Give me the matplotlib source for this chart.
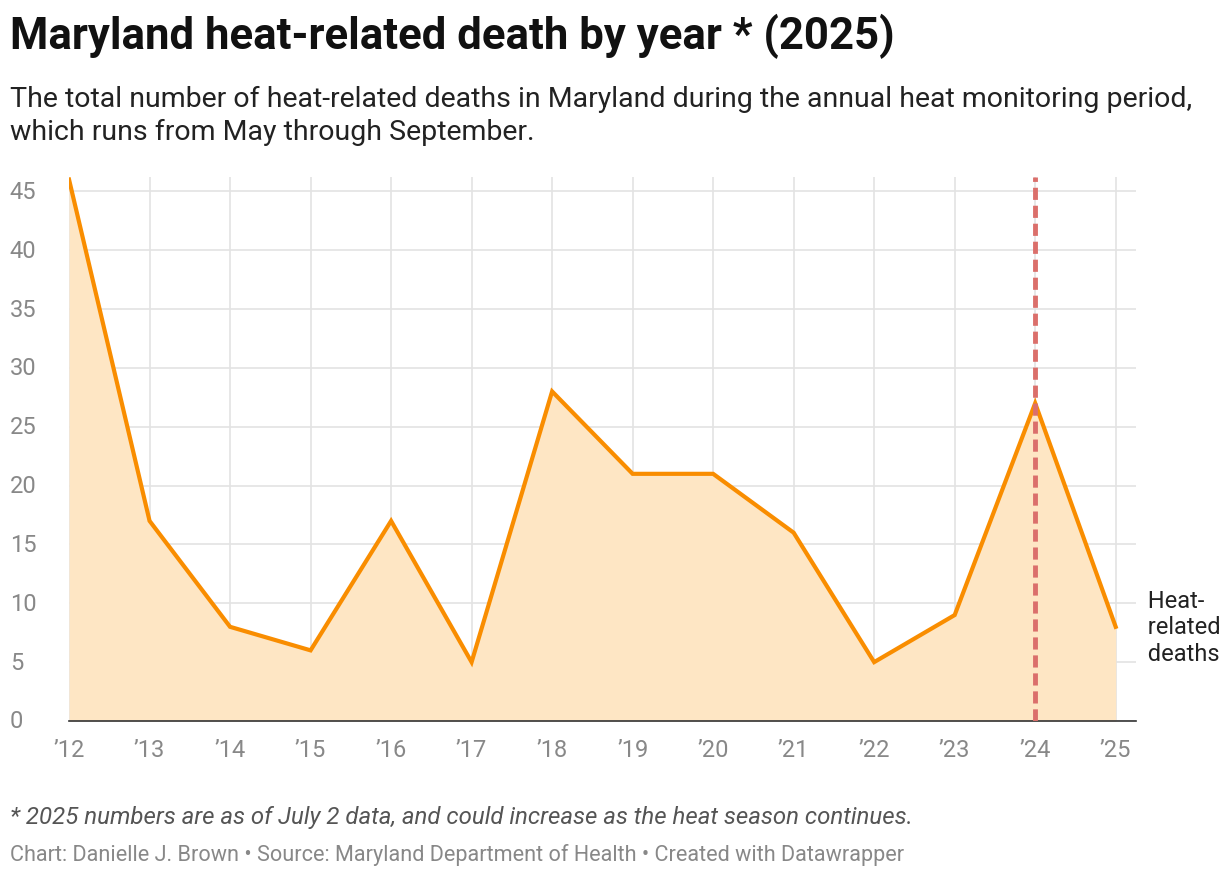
import matplotlib.pyplot as plt
from matplotlib.transforms import blended_transform_factory

plt.rcParams['font.family'] = ['Roboto', 'DejaVu Sans']

years = list(range(2012, 2026))
deaths = [46, 17, 8, 6, 17, 5, 28, 21, 21, 16, 5, 9, 27, 8]
year_labels = ["\u2019" + str(y)[2:] for y in years]
y_ticks = [0, 5, 10, 15, 20, 25, 30, 35, 40, 45]

fig = plt.figure(figsize=(12.2, 8.78), dpi=100)
ax = fig.add_axes([0.0566, 0.1777, 0.8744, 0.6193])

ax.fill_between(years, deaths, 0, color="#fee6c4", lw=0)
ax.plot(years, deaths, color="#f98d00", lw=3, solid_joinstyle="miter", zorder=4)
ax.axvline(2024, color="#db6f6b", lw=3.5, ls=(0, (2.5, 1.2)), zorder=5)

ax.set_xlim(2012, 2025.25)
ax.set_ylim(0, 46.2)
ax.set_yticks(y_ticks)
ax.set_yticklabels([])
ax.set_xticks(years)
ax.set_xticklabels(year_labels)
ax.grid(True, color="#e3e3e3", lw=1.2, zorder=0)
ax.set_axisbelow(True)
for s in ["top", "right", "left"]:
    ax.spines[s].set_visible(False)
ax.spines["bottom"].set_color("#333333")
ax.spines["bottom"].set_linewidth(1.2)
ax.tick_params(axis="both", length=0, labelsize=17, colors="#888888")
ax.tick_params(axis="x", pad=12)

# y tick labels, left-aligned at the figure edge
trans = blended_transform_factory(fig.transFigure, ax.transData)
for v in y_ticks:
    ax.text(0.008, v, str(v), transform=trans, fontsize=17, color="#888888",
            ha="left", va="center")

ax.text(2025.25, 8, "  Heat-\n  related\n  deaths", fontsize=17, color="#222222",
        va="center", ha="left", linespacing=1.2, transform=ax.transData)

fig.text(0.008, 0.958, "Maryland heat-related death by year * (2025)",
         fontsize=31.5, fontweight="bold", color="#111111", va="center")
fig.text(0.008, 0.868, "The total number of heat-related deaths in Maryland during the annual heat monitoring period,\nwhich runs from May through September.",
         fontsize=20.5, color="#222222", va="center", linespacing=1.3)
fig.text(0.008, 0.069, "* 2025 numbers are as of July 2 data, and could increase as the heat season continues.",
         fontsize=17.3, style="italic", color="#555555", va="center")
fig.text(0.008, 0.026, "Chart: Danielle J. Brown \u2022 Source: Maryland Department of Health \u2022 Created with Datawrapper",
         fontsize=15.6, color="#888888", va="center")

fig.savefig("out.png", dpi=100)
